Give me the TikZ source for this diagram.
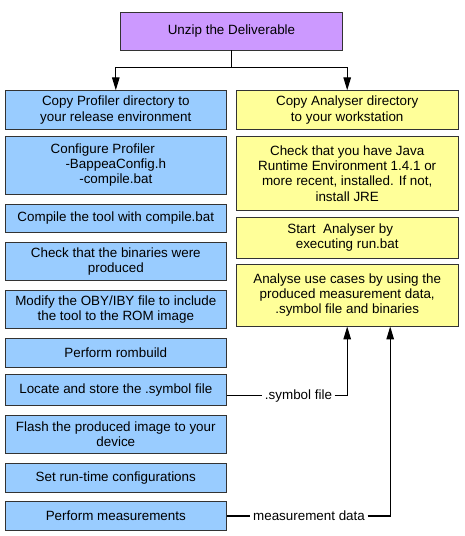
\documentclass[tikz,border=0pt]{standalone}
\usepackage{fontspec}
\setmainfont{Liberation Sans}
\usetikzlibrary{arrows.meta}
\definecolor{profblue}{HTML}{99CCFF}
\definecolor{analyellow}{HTML}{FFFF99}
\definecolor{unzippurple}{HTML}{CC99FF}
\definecolor{boxline}{HTML}{333333}

\begin{document}
\begin{tikzpicture}[
    x = 1pt, y = -1pt,
    font = \fontsize{13.4}{15.3}\selectfont,
    inner sep = 0, align = center,
    flow/.style = {draw, line width = 1.2pt, -{Triangle[width=7.5pt,length=13pt]}},
    link/.style = {draw, line width = 1.2pt}
  ]
    \tikzstyle {stepbox} = [draw = boxline, line width = 0.9pt, minimum width = 221.5pt]
    \tikzstyle {unzip} = [stepbox, fill = unzippurple]
    \tikzstyle {profiler} = [stepbox, fill = profblue]
    \tikzstyle {analyser} = [stepbox, fill = analyellow]
    \tikzstyle {datalabel} = [inner sep = 2.5pt]
    \useasboundingbox (0,0) rectangle (464,536);
    % place nodes
    \path node (unzip) [unzip, minimum height = 38pt] at (231.5,31) {Unzip the Deliverable};
    \path node (l1) [profiler, minimum height = 38.5pt] at (115.8,110) {Copy Profiler directory to\\your release environment};
    \path node (l2) [profiler, minimum height = 58.3pt] at (115.8,165.2) {Configure Profiler\hspace*{26pt}\\-BappeaConfig.h\\-compile.bat};
    \path node (l3) [profiler, minimum height = 28.7pt] at (115.8,218.4) {Compile the tool with compile.bat};
    \path node (l4) [profiler, minimum height = 37.6pt] at (115.8,261.5) {Check that the binaries were\\produced};
    \path node (l5) [profiler, minimum height = 38.3pt] at (115.8,309.2) {Modify the OBY/IBY file to include\\the tool to the ROM image};
    \path node (l6) [profiler, minimum height = 29pt] at (115.8,352.8) {Perform rombuild};
    \path node (l7) [profiler, minimum height = 31pt] at (115.8,389.8) {Locate and store the .symbol file};
    \path node (l8) [profiler, minimum height = 38.3pt] at (115.8,434.2) {Flash the produced image to your\\device};
    \path node (l9) [profiler, minimum height = 28.7pt] at (115.8,477.7) {Set run-time configurations};
    \path node (l10) [profiler, minimum height = 28.3pt] at (115.8,515.9) {Perform measurements};
    \path node (r1) [analyser, minimum height = 38.5pt] at (347.2,110) {Copy Analyser directory\\to your workstation};
    \path node (r2) [analyser, minimum height = 74.7pt] at (347.2,173.3) {Check that you have Java\\Runtime Environment 1.4.1 or\\more recent, installed. If not,\\install JRE};
    \path node (r3) [analyser, minimum height = 41pt] at (347.2,237.8) {Start\ \ Analyser by\hspace*{14pt}\\executing run.bat};
    \path node (r4) [analyser, minimum height = 62pt] at (347.2,295) {Analyse use cases by using the\\produced measurement data,\\.symbol file and binaries};
    \path node (symlbl) [datalabel] at (298.5,395.7) {.symbol file};
    \path node (measlbl) [datalabel] at (309,516) {measurement data};
    \coordinate (split) at (231.5,67.7);
    \coordinate (meastip) at ([xshift = 43pt]r4.south);
    % place edges
    \draw [link] (unzip) -- (split);
    \foreach \x in {l1, r1}
      { \draw [flow] (split) -| (\x) ; } ;
    \draw [link] (l7.east |- symlbl) -- (symlbl);
    \draw [flow] (symlbl) -| (r4.south);
    \draw [link] (l10.east |- measlbl) -- (measlbl);
    \draw [flow] (measlbl) -| (meastip);
\end{tikzpicture}
\end{document}
